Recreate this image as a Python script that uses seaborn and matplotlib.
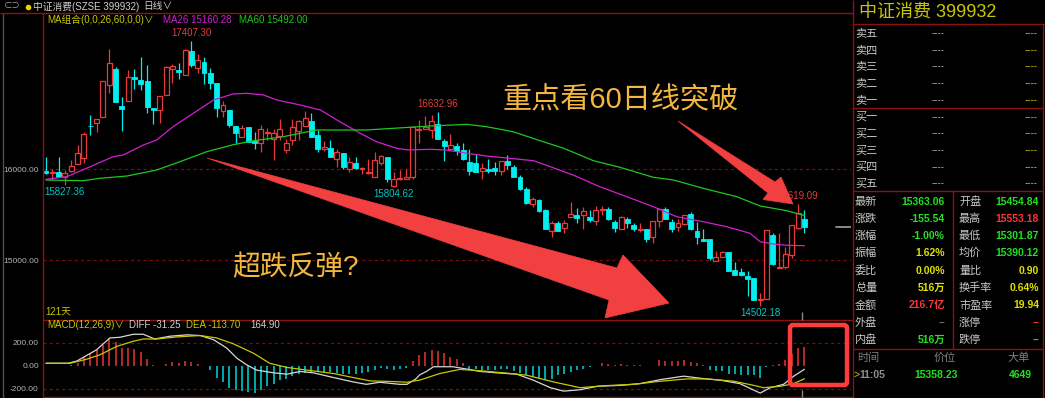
import numpy as np
import pandas as pd
import matplotlib
matplotlib.use("Agg")
import matplotlib.pyplot as plt
import seaborn as sns
from matplotlib.patches import Polygon, FancyBboxPatch

# ---------------- data ----------------
opens = [15985, 15963, 15970, 15912, 15985, 16058, 16128, 16480, 16506, 16579,
         16924, 17100, 16696, 16748, 17019, 16982, 16975, 16674, 16649, 16821,
         17107, 17092, 17041, 17298, 17111, 17180, 17056, 16953, 16645, 16652,
         16476, 16352, 16462, 16315, 16293, 16403, 16330, 16366, 16212, 16322,
         16425, 16476, 16528, 16374, 16227, 16234, 16117, 16183, 16007, 16073,
         16007, 15956, 15919, 16066, 16132, 15816, 15890, 15897, 15912, 16432,
         16447, 16432, 16498, 16315, 16227, 16256, 16212, 16080, 16066, 15985,
         16007, 16014, 15978, 16095, 16029, 15919, 15780, 15618, 15662, 15552,
         15318, 15413, 15354, 15479, 15494, 15494, 15472, 15435, 15552, 15567,
         15420, 15347, 15450, 15391, 15332, 15347, 15252, 15428, 15560, 15420,
         15369, 15398, 15508, 15325, 15237, 15230, 14995, 15039, 15091, 14893,
         14871, 14827, 14805, 14562, 14570, 15281, 14915, 14930, 15061, 15354,
         15454.84]
highs = [16132, 16000, 16139, 15992, 16102, 16264, 16410, 16601, 16550, 16968,
         17323, 17129, 16792, 17092, 17100, 17239, 17144, 16674, 16806, 17136,
         17158, 17166, 17320, 17407.30, 17268, 17239, 17114, 16953, 16755, 16652,
         16476, 16491, 16462, 16410, 16491, 16454, 16440, 16550, 16337, 16557,
         16542, 16638, 16623, 16432, 16315, 16322, 16227, 16183, 16139, 16139,
         16022, 16110, 16190, 16161, 16132, 15970, 15992, 16000, 16462, 16542,
         16586, 16597, 16632.96, 16330, 16388, 16293, 16286, 16220, 16168, 16066,
         16110, 16080, 16095, 16161, 16044, 15941, 15809, 15699, 15677, 15567,
         15428, 15428, 15442, 15640, 15574, 15589, 15552, 15596, 15596, 15582,
         15442, 15486, 15472, 15406, 15406, 15347, 15428, 15574, 15589, 15450,
         15457, 15501, 15530, 15420, 15347, 15230, 15105, 15105, 15091, 14981,
         14915, 14885, 14805, 14643, 15332, 15296, 15296, 15149, 15384, 15619.09,
         15553.18]
lows = [15948, 15882, 15912, 15827.36, 15970, 16058, 16066, 16374, 16410, 16579,
        16843, 16740, 16418, 16748, 16880, 16872, 16623, 16498, 16506, 16821,
        16953, 16997, 17041, 17122, 17063, 16938, 16880, 16579, 16572, 16469,
        16286, 16352, 16300, 16227, 16190, 16322, 16102, 16322, 16183, 16264,
        16322, 16476, 16359, 16190, 16205, 16139, 16022, 16000, 15970, 16000,
        15948, 15948, 15919, 16044, 15860, 15804.62, 15882, 15897, 15890, 16293,
        16447, 16344, 16330, 16095, 16212, 16161, 16102, 15941, 15970, 15897,
        15963, 15934, 15941, 16007, 15912, 15772, 15618, 15582, 15530, 15340,
        15259, 15318, 15296, 15479, 15413, 15347, 15420, 15391, 15501, 15442,
        15310, 15347, 15354, 15325, 15310, 15200, 15193, 15369, 15450, 15310,
        15325, 15391, 15332, 15178, 15208, 15003, 14995, 15032, 14879, 14834,
        14827, 14607, 14562, 14502.18, 14570, 14945, 14915, 14900, 15025, 15340,
        15301.87]
closes = [15956, 15967, 15912, 15956, 16036, 16176, 16385, 16473, 16550, 16968,
          17166, 16740, 16660, 17012, 16990, 16938, 16682, 16652, 16806, 17122,
          17136, 17070, 17312, 17144, 17202, 17056, 16953, 16674, 16704, 16491,
          16403, 16454, 16300, 16286, 16447, 16410, 16396, 16440, 16286, 16462,
          16528, 16564, 16359, 16227, 16249, 16139, 16190, 16022, 16080, 16014,
          16014, 15970, 16102, 16146, 15897, 15890, 15904, 15919, 16462, 16447,
          16462, 16534, 16330, 16256, 16264, 16198, 16117, 15985, 15970, 16014,
          15985, 15985, 16095, 16051, 15919, 15787, 15633, 15670, 15538, 15347,
          15406, 15325, 15413, 15508, 15464, 15538, 15442, 15552, 15567, 15450,
          15354, 15472, 15406, 15340, 15340, 15237, 15428, 15567, 15450, 15347,
          15413, 15501, 15340, 15259, 15208, 15025, 15039, 15091, 14879, 14841,
          14834, 14797, 14562, 14577, 15332, 14959, 14930, 15069, 15384, 15518.60,
          15363.06]

# moving averages (candle index, value)
ma26_idx = [0, 3.3, 6.4, 10.6, 12.2, 15.4, 17.5, 20.1, 23.3, 26.5, 29.6, 31.8, 34.4,
            36.5, 40.2, 43.4, 46.5, 49.7, 52.3, 55.5, 57.3, 60.8, 63.3, 66.6, 69.7,
            73.9, 77.1, 79.2, 83.4, 87.6, 91.9, 96.1, 99.8, 104, 107.7, 111.4, 113,
            115.1, 117.2, 120]
ma26_val = [15890, 15919, 16011, 16138, 16157, 16267, 16322, 16468, 16615, 16762,
            16828, 16835, 16817, 16762, 16707, 16652, 16523, 16396, 16303, 16231,
            16212, 16220, 16212, 16176, 16146, 16117, 16095, 16044, 15937, 15809,
            15699, 15589, 15479, 15424, 15369, 15297, 15204, 15179, 15165, 15160.28]
ma60_idx = [0, 5.9, 8.5, 12.8, 17.5, 21.2, 25.4, 29.6, 32.8, 37.5, 42.8, 50.7, 57.6,
            60.8, 66.6, 69.7, 73.9, 78.2, 81.9, 86.6, 90.8, 96.1, 99.3, 104, 109.3,
            113, 117.2, 120]
ma60_val = [15882, 15875, 15901, 15926, 15992, 16084, 16193, 16270, 16314, 16358,
            16432, 16432, 16462, 16476, 16494, 16468, 16413, 16314, 16231, 16095,
            16022, 15912, 15882, 15791, 15699, 15597, 15545, 15492.00]

# MACD
macd_hist = [0, 0, 0, 0, 6, 26, 74, 109, 138, 182,
             232, 203, 153, 153, 144, 115, 56, 9, 0, 15,
             35, 26, 38, 32, 15, 0, -38, -103, -144, -191,
             -215, -220, -232, -238, -209, -179, -156, -126, -115, -91,
             -74, -62, -62, -56, -56, -56, -62, -74, -74, -68,
             -62, -56, -38, -21, -32, -38, -32, -21, 44, 94,
             120, 138, 126, 109, 74, 56, 26, -26, -32, -38,
             -38, -38, -26, -32, -44, -62, -85, -97, -103, -126,
             -115, -85, -68, -56, -38, -26, -15, 0, 21, 15,
             9, 15, 9, 9, 3, 0, 0, 50, 44, 44,
             38, 50, 32, 21, 3, -38, -44, -44, -68, -74,
             -79, -85, -85, -103, -10, 9, 15, 50, 100, 153,
             164.90]
diff_idx = [0, 3.5, 4.9, 8.0, 10.1, 11.7, 13.8, 15.4, 17.2, 19.6, 22.3, 24.4, 26.5,
            28.6, 30.2, 31.8, 33.3, 36.0, 38.1, 40.2, 42.3, 45.5, 48.6, 50.7, 52.8,
            56.0, 57.1, 58.4, 59.2, 60.2, 61.3, 64.4, 66.0, 68.7, 71.3, 74.5, 77.1,
            79.8, 81.9, 84.5, 87.2, 90.8, 94.0, 97.2, 100.9, 104.0, 106.7, 109.8,
            113.0, 114.6, 116.7, 118.3, 120]
diff_val = [21, 21, 41, 138, 241, 247, 273, 273, 232, 256, 268, 262, 226,
            153, 65, 6, -38, -62, -74, -50, -62, -103, -141, -162, -144,
            -162, -162, -120, -77, -50, -9, -9, -24, -50, -62, -74, -126,
            -191, -221, -209, -179, -171, -156, -121, -91, -112, -126, -156,
            -238, -191, -162, -91, -31.25]
dea_idx = [0, 3.8, 6.4, 8.5, 11.2, 13.8, 15.4, 17.5, 20.7, 24.4, 27.0, 29.6, 32.8,
           35.4, 38.1, 41.2, 45.5, 48.6, 51.3, 55.0, 57.1, 59.2, 62.3, 65.5, 68.7,
           72.4, 76.0, 80.3, 84.5, 88.7, 92.9, 97.2, 101.4, 104.6, 108.8, 112.0,
           113.5, 116.2, 118.3, 120]
dea_val = [21, 21, 56, 94, 168, 212, 232, 232, 250, 262, 241, 191, 109,
           21, -15, -38, -68, -103, -132, -138, -144, -124, -68, -32, -44,
           -62, -82, -141, -191, -173, -162, -135, -115, -115, -135, -171,
           -191, -179, -156, -113.70]

# side panel texts
title_name = "中证消费"
title_code = "399932"
book_sell = ["卖五", "卖四", "卖三", "卖二", "卖一"]
book_buy = ["买一", "买二", "买三", "买四", "买五"]
stat_left_labels = ["最新", "涨跌", "涨幅", "振幅", "委比", "总量", "金额", "外盘", "内盘"]
stat_left_values = ["15363.06", "-155.54", "-1.00%", "1.62%", "0.00%", "516万", "216.7亿", "--", "516万"]
stat_left_colors = ["g", "g", "g", "y", "y", "y", "r", "n", "g"]
stat_right_labels = ["开盘", "最高", "最低", "均价", "量比", "换手率", "市盈率", "涨停", "跌停"]
stat_right_values = ["15454.84", "15553.18", "15301.87", "15390.12", "0.90", "0.64%", "19.94", "--", "--"]
stat_right_colors = ["g", "r", "g", "g", "y", "y", "y", "r", "g"]
tick_time = "11:05"
tick_price = "15358.23"
tick_vol = "4649"

# ---------------- style ----------------
sns.set_theme(style="dark")
plt.rcParams["font.family"] = ["Liberation Sans", "Noto Sans CJK SC", "DejaVu Sans"]
plt.rcParams["axes.unicode_minus"] = False

RED = "#e8393b"
CYAN = "#00f0f0"
BORDER = "#8c1212"
GRID = "#7a0c0c"
YEL = "#c8c800"
VAL_COL = {"g": "#22e022", "y": "#e0e000", "r": "#ff3434", "n": "#707070"}

W, H = 1045, 398
fig = plt.figure(figsize=(W / 100, H / 100), dpi=100, facecolor="black")


def px_axes(left, top, right, bottom):
    return fig.add_axes([left / W, 1 - bottom / H, (right - left) / W, (bottom - top) / H])


idx = np.arange(len(closes))
df = pd.DataFrame({"i": idx, "o": opens, "h": highs, "l": lows, "c": closes})
df["up"] = df["c"] >= df["o"]

# ---------------- main candle panel ----------------
ax = px_axes(43, 13, 851, 319)
ax.set_facecolor("black")
ax.set_xlim(-0.475, 127.37)
ax.set_ylim(14355, 17717.6)
for s in ax.spines.values():
    s.set_visible(False)
ax.set_xticks([])
ax.set_yticks([15000, 16000])
ax.set_yticklabels(["15000.00", "16000.00"], color="#b4b4b4", fontsize=6)
ax.tick_params(axis="y", length=0, pad=3)
for lvl in (15000, 16000):
    ax.axhline(lvl, color=GRID, lw=0.9, ls=(0, (2.5, 2.5)), zorder=1)

colors = np.where(df["up"], RED, CYAN)
ax.vlines(df["i"], df["l"], df["h"], colors=colors, lw=0.9, zorder=2)
body_lo = np.minimum(df["o"], df["c"])
body_h = np.maximum(np.abs(df["c"] - df["o"]), 4)
up = df["up"].values
ax.bar(df["i"][up], body_h[up], bottom=body_lo[up], width=0.78,
       facecolor="black", edgecolor=RED, linewidth=0.9, zorder=3)
ax.bar(df["i"][~up], body_h[~up], bottom=body_lo[~up], width=0.78,
       facecolor=CYAN, edgecolor=CYAN, linewidth=0.6, zorder=3)

sns.lineplot(x=ma26_idx, y=ma26_val, ax=ax, color="#d020d0", lw=0.9, zorder=4)
sns.lineplot(x=ma60_idx, y=ma60_val, ax=ax, color="#1ec81e", lw=0.9, zorder=4)
ax.set_xlabel("")
ax.set_ylabel("")

# extreme labels
hi_pts = [23, 62, 119]
lo_pts = [3, 55, 113]
for k in hi_pts:
    ax.annotate(f"{highs[k]:.2f}", (k, highs[k]), xytext=(0, 3), textcoords="offset pixels",
                ha="center", va="bottom", color="#e03c3c", fontsize=7, zorder=5)
for k in lo_pts:
    ax.annotate(f"{lows[k]:.2f}", (k, lows[k]), xytext=(0, -2), textcoords="offset pixels",
                ha="center", va="top", color="#00c8c8", fontsize=7, zorder=5)
# current price marker
ax.axhline(closes[-1], xmin=0.982, xmax=1.0, color="#a0a0a0", lw=1.2, zorder=5)

# ---------------- MACD panel ----------------
mx = px_axes(43, 320, 851, 397)
mx.set_facecolor("black")
mx.set_xlim(-0.475, 127.37)
mx.set_ylim(-272, 397)
for s in mx.spines.values():
    s.set_visible(False)
mx.set_xticks([])
mx.set_yticks([-200, 0, 200])
mx.set_yticklabels(["-200.00", "0.00", "200.00"], color="#b4b4b4", fontsize=6)
mx.tick_params(axis="y", length=0, pad=3)
for lvl in (-200, 200):
    mx.axhline(lvl, color=GRID, lw=0.9, ls=(0, (2.5, 2.5)), zorder=1)
hist = np.array(macd_hist, dtype=float)
hcol = np.where(hist >= 0, "#d83030", "#00c8c8")
mx.vlines(idx, 0, hist, colors=hcol, lw=1.2, zorder=2)
sns.lineplot(x=diff_idx, y=diff_val, ax=mx, color="#d8d8d8", lw=0.9, zorder=3)
sns.lineplot(x=dea_idx, y=dea_val, ax=mx, color="#c8c800", lw=0.9, zorder=3)
mx.set_xlabel("")
mx.set_ylabel("")

# ---------------- overlay (frame, texts, annotations) ----------------
ov = fig.add_axes([0, 0, 1, 1])
ov.set_xlim(0, W)
ov.set_ylim(H, 0)
ov.axis("off")
ov.patch.set_alpha(0)
ov.set_zorder(10)


def hl(y, x0, x1, c=BORDER, lw=1.0):
    ov.plot([x0, x1], [y, y], color=c, lw=lw, solid_capstyle="butt")


def vl(x, y0, y1, c=BORDER, lw=1.0):
    ov.plot([x, x], [y0, y1], color=c, lw=lw, solid_capstyle="butt")


vl(2.5, 13, 398, c="#505050")
hl(12.5, 0, 853)
vl(43, 12.5, 398)
hl(319.5, 43, 853)
hl(397, 43, 853)
vl(853, 0, 398)
hl(24, 853, 1045)
hl(108, 853, 1043)
hl(191, 853, 1043)
hl(348.5, 853, 1043)
vl(1043, 24, 398)
vl(953, 191, 348.5)
# cursor ticks
vl(802, 312, 320, c="#8a8a8a")
vl(802, 390, 397, c="#8a8a8a")

# header
ov.text(3.5, 6.5, "⊂⊃", color="#a0a0a0", fontsize=6, va="center", ha="left")
ov.scatter([28], [6.5], s=9, color="#e6d200", zorder=5)
ov.text(33, 6.5, "中证消费(SZSE 399932)", color="#d0d0d0", fontsize=7, va="center")
ov.text(143, 6.5, "日线∨", color="#d0d0d0", fontsize=7, va="center")
ov.text(47, 20, "MA组合(0,0,26,60,0,0)∨", color=YEL, fontsize=7, va="center")
ov.text(163, 20, "MA26 15160.28", color="#d020d0", fontsize=7, va="center")
ov.text(239, 20, "MA60 15492.00", color="#1ec81e", fontsize=7, va="center")
ov.text(45, 312, "121天", color=YEL, fontsize=7, va="center")
ov.text(47, 325.5, "MACD(12,26,9)∨", color=YEL, fontsize=7, va="center")
ov.text(129, 325.5, "DIFF -31.25", color="#d0d0d0", fontsize=7, va="center")
ov.text(186, 325.5, "DEA -113.70", color=YEL, fontsize=7, va="center")
ov.text(250, 325.5, "164.90", color="#d0d0d0", fontsize=7, va="center")

# annotations (arrows + captions)
ARROW = "#f23f3f"
arrow1 = [(207, 158), (617, 268), (623, 255), (669, 303), (605, 318), (609, 300)]
arrow2 = [(678, 121), (775, 182), (781, 177), (793, 204), (763, 199.5), (768, 193)]
ov.add_patch(Polygon(arrow1, closed=True, facecolor=ARROW, edgecolor=ARROW, lw=0.5))
ov.add_patch(Polygon(arrow2, closed=True, facecolor=ARROW, edgecolor=ARROW, lw=0.5))
ov.text(295, 268, "超跌反弹?", color="#f3b63f", fontsize=20, ha="center", va="center")
ov.text(621, 100, "重点看60日线突破", color="#f3b63f", fontsize=21, ha="center", va="center")
ov.add_patch(FancyBboxPatch((790, 325), 57, 60, boxstyle="round,pad=0,rounding_size=3",
                            facecolor="none", edgecolor="#ff3b3b", lw=3.2))

# right panel
ov.text(859, 13.5, f"{title_name} {title_code}", color=YEL, fontsize=13, va="center")
LBL = "#c8c8c8"
for k, name in enumerate(book_sell):
    y = 33 + 16.75 * k
    ov.text(855, y, name, color=LBL, fontsize=8, va="center")
    ov.text(945, y, "----", color="#b0b0b0", fontsize=7, va="center", ha="right")
    ov.text(1038, y, "----", color=YEL, fontsize=7, va="center", ha="right")
for k, name in enumerate(book_buy):
    y = 117 + 16.6 * k
    ov.text(855, y, name, color=LBL, fontsize=8, va="center")
    ov.text(945, y, "----", color="#b0b0b0", fontsize=7, va="center", ha="right")
    ov.text(1038, y, "----", color=YEL, fontsize=7, va="center", ha="right")
stat_y = [201.7, 219, 235.7, 252.7, 270.7, 287.7, 305.3, 322.7, 340]
for k, y in enumerate(stat_y):
    ov.text(855, y, stat_left_labels[k], color=LBL, fontsize=8, va="center")
    ov.text(945, y, stat_left_values[k], color=VAL_COL[stat_left_colors[k]], fontsize=7.5,
            fontweight="bold", va="center", ha="right")
    ov.text(959, y, stat_right_labels[k], color=LBL, fontsize=8, va="center")
    ov.text(1039, y, stat_right_values[k], color=VAL_COL[stat_right_colors[k]], fontsize=7.5,
            fontweight="bold", va="center", ha="right")
ov.text(857, 358, "时间", color="#808080", fontsize=8, va="center")
ov.text(945, 358, "价位", color="#808080", fontsize=8, va="center", ha="center")
ov.text(1030, 358, "大单", color="#808080", fontsize=8, va="center", ha="right")
ov.text(854, 374.5, ">", color=YEL, fontsize=7.5, va="center")
ov.text(859, 374.5, tick_time, color="#909090", fontsize=7.5, fontweight="bold", va="center")
ov.text(936, 374.5, tick_price, color=VAL_COL["g"], fontsize=7.5, fontweight="bold",
        va="center", ha="center")
ov.text(1032, 374.5, tick_vol, color=VAL_COL["g"], fontsize=7.5, fontweight="bold",
        va="center", ha="right")

fig.savefig("out.png", dpi=100, facecolor="black")
